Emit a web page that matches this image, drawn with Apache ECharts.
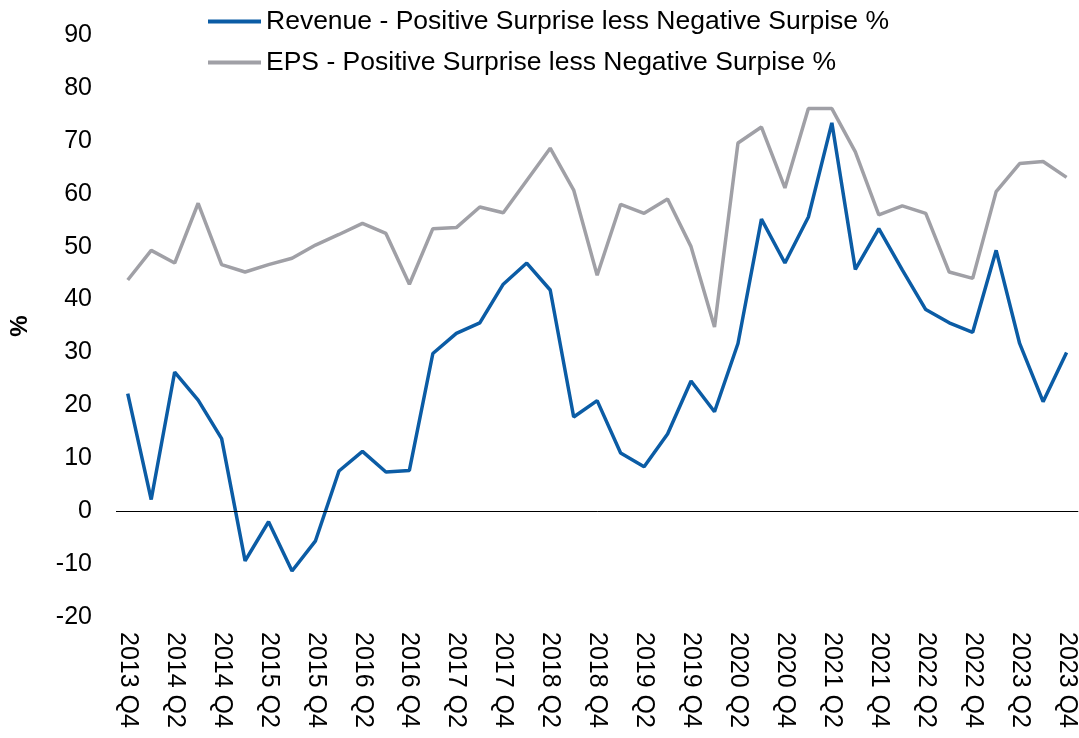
<!DOCTYPE html>
<html>
<head>
<meta charset="utf-8">
<script src="https://cdn.jsdelivr.net/npm/echarts@6/dist/echarts.min.js"></script>
<style>
  html, body { margin: 0; padding: 0; background: #fff; }
  #chart { width: 1079px; height: 738px; }
</style>
</head>
<body>
<div id="chart"></div>
<script>
const quarters = [
  '2013 Q4', '2014 Q1', '2014 Q2', '2014 Q3', '2014 Q4', '2015 Q1', '2015 Q2', '2015 Q3', '2015 Q4',
  '2016 Q1', '2016 Q2', '2016 Q3', '2016 Q4', '2017 Q1', '2017 Q2', '2017 Q3', '2017 Q4',
  '2018 Q1', '2018 Q2', '2018 Q3', '2018 Q4', '2019 Q1', '2019 Q2', '2019 Q3', '2019 Q4',
  '2020 Q1', '2020 Q2', '2020 Q3', '2020 Q4', '2021 Q1', '2021 Q2', '2021 Q3', '2021 Q4',
  '2022 Q1', '2022 Q2', '2022 Q3', '2022 Q4', '2023 Q1', '2023 Q2', '2023 Q3', '2023 Q4'
];

const revenueSurprise = [
  22.2, 2.2, 26.3, 21.0, 13.7, -9.4, -2.0, -11.3, -5.6,
  7.6, 11.3, 7.4, 7.7, 29.8, 33.6, 35.6, 42.9,
  46.9, 41.8, 17.8, 20.9, 11.0, 8.4, 14.6, 24.6,
  18.8, 31.7, 55.2, 46.9, 55.6, 73.4, 45.7, 53.4,
  45.6, 38.1, 35.6, 33.8, 49.3, 31.7, 20.7, 30.0
];

const epsSurprise = [
  43.7, 49.3, 46.9, 58.2, 46.6, 45.2, 46.6, 47.8, 50.3,
  52.3, 54.4, 52.5, 42.9, 53.4, 53.6, 57.5, 56.4,
  62.5, 68.6, 60.7, 44.6, 58.0, 56.3, 59.0, 50.0,
  34.8, 69.6, 72.6, 61.1, 76.1, 76.1, 67.9, 56.0,
  57.7, 56.3, 45.2, 44.0, 60.4, 65.7, 66.1, 63.1
];

const seriesNames = [
  'Revenue - Positive Surprise less Negative Surpise %',
  'EPS - Positive Surprise less Negative Surpise %'
];

const chart = echarts.init(document.getElementById('chart'));
const font = 'Liberation Sans, Arial, sans-serif';

chart.setOption({
  backgroundColor: '#fff',
  animation: false,
  textStyle: { fontFamily: font },
  legend: {
    orient: 'vertical',
    left: 203,
    top: 3,
    icon: 'rect',
    itemWidth: 53,
    itemHeight: 4,
    itemGap: 14,
    data: seriesNames,
    textStyle: { color: '#000', fontSize: 26.5, fontFamily: font },
  },
  grid: { left: 114, top: 35, width: 968, height: 582 },
  xAxis: {
    type: 'category',
    data: quarters,
    boundaryGap: true,
    axisLine: { show: false, onZero: false },
    axisTick: { show: false },
    axisLabel: {
      interval: 1,
      rotate: -90,
      margin: 15,
      color: '#000',
      fontSize: 25,
      fontFamily: font,
    },
  },
  yAxis: {
    type: 'value',
    min: -20,
    max: 90,
    interval: 10,
    name: '%',
    nameLocation: 'middle',
    nameRotate: 90,
    nameGap: 84,
    nameTextStyle: { color: '#000', fontSize: 24, fontWeight: 'bold', fontFamily: font },
    axisLine: { show: false },
    axisTick: { show: false },
    splitLine: { show: false },
    axisLabel: { color: '#000', fontSize: 25, margin: 24, fontFamily: font },
  },
  series: [
    {
      name: seriesNames[0],
      type: 'line',
      data: revenueSurprise,
      symbol: 'none',
      lineStyle: { color: '#0B5CA5', width: 3.5 },
      itemStyle: { color: '#0B5CA5' },
      z: 3,
      markLine: {
        silent: true,
        symbol: ['none', 'none'],
        label: { show: false },
        lineStyle: { color: '#000', width: 1, type: 'solid' },
        data: [{ yAxis: 0 }],
      },
    },
    {
      name: seriesNames[1],
      type: 'line',
      data: epsSurprise,
      symbol: 'none',
      lineStyle: { color: '#A0A0A6', width: 3.5 },
      itemStyle: { color: '#A0A0A6' },
      z: 2,
    },
  ],
});
</script>
</body>
</html>
